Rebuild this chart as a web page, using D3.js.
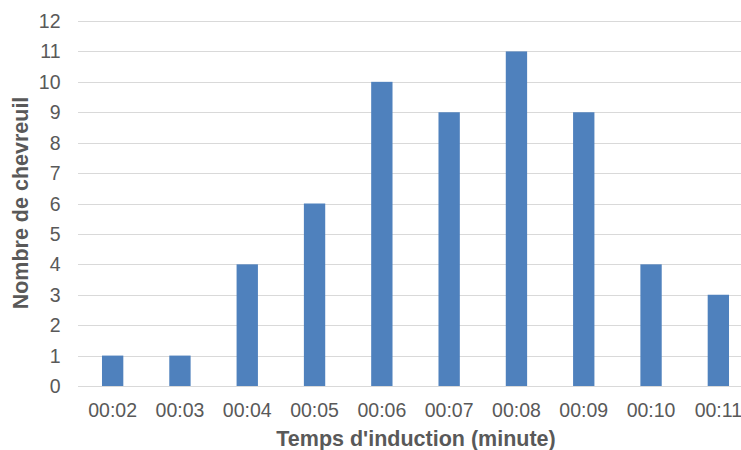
<!DOCTYPE html>
<html><head><meta charset="utf-8">
<script src="https://cdn.jsdelivr.net/npm/d3@7"></script>
<style>body{margin:0;background:#fff}svg{display:block}</style>
</head><body>
<svg id="c" width="741" height="450"></svg>
<script>
const categories = ["00:02","00:03","00:04","00:05","00:06","00:07","00:08","00:09","00:10","00:11"];
const values = [1,1,4,6,10,9,11,9,4,3];
const yTicks = [0,1,2,3,4,5,6,7,8,9,10,11,12];
const xTitle = "Temps d'induction (minute)";
const yTitle = "Nombre de chevreuil";

const svg = d3.select("#c");
const font = "'Liberation Sans', Arial, sans-serif";
const x = d3.scaleBand().domain(categories).range([79, 752]).paddingInner(0.683).paddingOuter(0.3415);
const y = d3.scaleLinear().domain([0, 12]).range([386, 21]);

// gridlines
svg.append("g").selectAll("line").data(yTicks).join("line")
  .attr("x1", 78).attr("x2", 741)
  .attr("y1", d => Math.round(y(d)) + 0.5).attr("y2", d => Math.round(y(d)) + 0.5)
  .attr("stroke", "#d9d9d9").attr("stroke-width", 1);

// y tick labels
svg.append("g").selectAll("text").data(yTicks).join("text")
  .attr("x", 60.5).attr("y", d => y(d)).attr("dy", "0.36em")
  .attr("text-anchor", "end").attr("font-family", font).attr("font-size", 19.5)
  .attr("fill", "#595959").text(d => d);

// bars
svg.append("g").selectAll("rect").data(values).join("rect")
  .attr("x", (d, i) => x(categories[i])).attr("width", x.bandwidth())
  .attr("y", d => y(d)).attr("height", d => y(0) - y(d))
  .attr("fill", "#4f81bd");

// x tick labels
svg.append("g").selectAll("text").data(categories).join("text")
  .attr("x", d => x(d) + x.bandwidth() / 2).attr("y", 416.5)
  .attr("text-anchor", "middle").attr("font-family", font).attr("font-size", 19.5)
  .attr("fill", "#595959").text(d => d);

// axis titles
svg.append("text").attr("x", 416).attr("y", 446).attr("text-anchor", "middle")
  .attr("font-family", font).attr("font-size", 21.5).attr("font-weight", "bold")
  .attr("fill", "#595959").text(xTitle);
svg.append("text").attr("transform", "translate(28,203) rotate(-90)").attr("text-anchor", "middle")
  .attr("font-family", font).attr("font-size", 21.5).attr("font-weight", "bold")
  .attr("fill", "#595959").text(yTitle);
</script>
</body></html>
